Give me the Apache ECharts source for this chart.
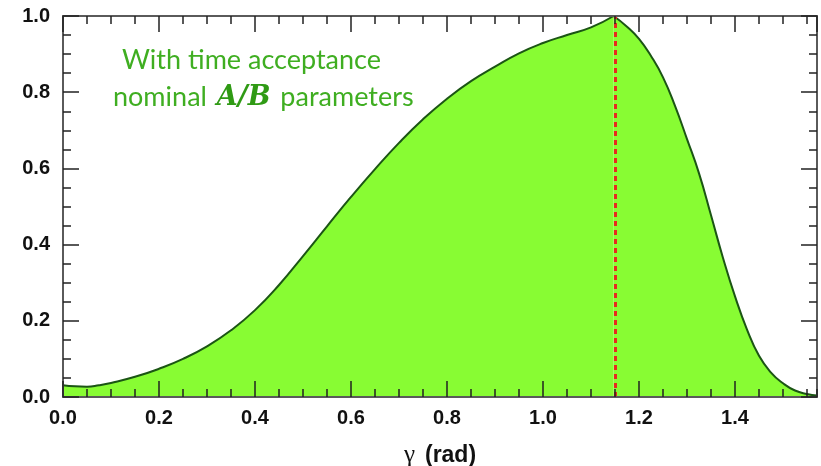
<!DOCTYPE html>
<html>
<head>
<meta charset="utf-8">
<script src="https://cdn.jsdelivr.net/npm/echarts@6/dist/echarts.min.js"></script>
<style>
  html, body { margin: 0; padding: 0; background: #fff; }
  #chart { width: 821px; height: 466px; }
</style>
</head>
<body>
<div id="chart"></div>
<script>
// gamma (rad) and the normalised likelihood curve
const gamma = [0, 0.025, 0.05, 0.075, 0.1, 0.15, 0.2, 0.25, 0.3, 0.35, 0.4, 0.45, 0.5, 0.55, 0.6, 0.65, 0.7, 0.75, 0.8, 0.85, 0.9, 0.95, 1.0, 1.05, 1.1, 1.147,
               1.175, 1.2, 1.225, 1.25, 1.275, 1.3, 1.325, 1.35, 1.375, 1.4, 1.425, 1.45, 1.475, 1.5, 1.525, 1.55, 1.5708];
const likelihood = [0.031, 0.028, 0.027, 0.031, 0.037, 0.053, 0.074, 0.100, 0.133, 0.175, 0.228, 0.294, 0.370, 0.448, 0.525, 0.598, 0.667, 0.729, 0.783, 0.829, 0.867, 0.902, 0.929, 0.950, 0.970, 1.0,
                    0.972, 0.940, 0.895, 0.839, 0.764, 0.677, 0.587, 0.477, 0.365, 0.264, 0.177, 0.108, 0.064, 0.036, 0.017, 0.008, 0.004];
const peakGamma = 1.147;
const xTicks = [0, 0.2, 0.4, 0.6, 0.8, 1.0, 1.2, 1.4];
const yTicks = [0, 0.2, 0.4, 0.6, 0.8, 1.0];
const noteLine1 = 'With time acceptance';
const noteLine2 = ['nominal ', 'A/B', ' parameters'];

const pts = gamma.map((g, i) => [g, likelihood[i]]);
const rising = pts.filter(p => p[0] <= peakGamma);
const falling = pts.filter(p => p[0] >= peakGamma);

const FILL = '#88fc33';
const EDGE = '#1b5514';
const AXIS = '#5a5a5a';
const TICK = '#222';
const XMAX = Math.PI / 2;

function xAxisDef(pos, interval, len, labels) {
  return {
    type: 'value', position: pos, min: 0, max: XMAX, interval: interval, z: 5,
    axisLine: { show: true, onZero: false, lineStyle: { color: AXIS, width: 2 } },
    axisTick: { show: true, inside: true, length: len, lineStyle: { color: TICK, width: 1.5 } },
    splitLine: { show: false },
    axisLabel: labels ? {
      show: true, margin: 11, showMaxLabel: false,
      fontFamily: 'Liberation Sans', fontWeight: 'bold', fontSize: 20, color: '#111',
      formatter: v => (xTicks.some(t => Math.abs(t - v) < 1e-9) ? v.toFixed(1) : '')
    } : { show: false }
  };
}

function yAxisDef(pos, labels) {
  return {
    type: 'value', position: pos, min: 0, max: 1, interval: 0.2, z: 5,
    axisLine: { show: true, onZero: false, lineStyle: { color: AXIS, width: 2 } },
    axisTick: { show: true, inside: true, length: 16, lineStyle: { color: TICK, width: 1.5 } },
    minorTick: { show: true, splitNumber: 4, length: 8, lineStyle: { color: TICK, width: 1.5 } },
    splitLine: { show: false }, minorSplitLine: { show: false },
    axisLabel: labels ? {
      show: true, margin: 13,
      fontFamily: 'Liberation Sans', fontWeight: 'bold', fontSize: 20, color: '#111',
      formatter: v => (yTicks.some(t => Math.abs(t - v) < 1e-9) ? v.toFixed(1) : '')
    } : { show: false }
  };
}

const xMain = xAxisDef('bottom', 0.2, 16, true);
xMain.name = '{g|γ}   {r|(rad)}';
xMain.nameLocation = 'middle';
xMain.nameGap = 46;
xMain.nameTextStyle = {
  rich: {
    g: { fontFamily: 'Liberation Serif', fontSize: 25, color: '#111' },
    r: { fontFamily: 'Liberation Sans', fontWeight: 'bold', fontSize: 23, color: '#111' }
  }
};

const chart = echarts.init(document.getElementById('chart'), null, { renderer: 'canvas' });
chart.setOption({
  animation: false,
  backgroundColor: '#fff',
  grid: { left: 63, right: 4, top: 16, bottom: 69, containLabel: false, outerBoundsMode: 'none' },
  xAxis: [
    xMain,
    xAxisDef('bottom', 0.05, 8, false),
    xAxisDef('top', 0.2, 16, false),
    xAxisDef('top', 0.05, 8, false)
  ],
  yAxis: [yAxisDef('left', true), yAxisDef('right', false)],
  series: [
    {
      type: 'line', data: rising, smooth: 0.5, showSymbol: false,
      lineStyle: { color: EDGE, width: 2 },
      areaStyle: { color: FILL, opacity: 1 },
      z: 1
    },
    {
      type: 'line', data: falling, smooth: 0.5, showSymbol: false,
      lineStyle: { color: EDGE, width: 2 },
      areaStyle: { color: FILL, opacity: 1 },
      z: 1,
      markLine: {
        silent: true, symbol: ['none', 'none'], label: { show: false },
        lineStyle: { color: '#e8281c', type: [5, 4], width: 3 },
        data: [{ xAxis: peakGamma }]
      }
    }
  ],
  graphic: [
    {
      type: 'text', left: 122, top: 47, z: 10,
      style: { text: noteLine1, font: '27px Lato', fill: '#3fae21' }
    },
    {
      type: 'text', left: 113, top: 84, z: 10,
      style: {
        text: noteLine2[0] + '{ab|' + noteLine2[1] + '}' + noteLine2[2],
        font: '27px Lato', fill: '#3fae21',
        rich: { ab: { fontFamily: 'DejaVu Serif', fontStyle: 'italic', fontWeight: 'bold', fontSize: 27, fill: '#2f9a14', padding: [0, 3, 0, 3] } }
      }
    }
  ]
});
</script>
</body>
</html>
